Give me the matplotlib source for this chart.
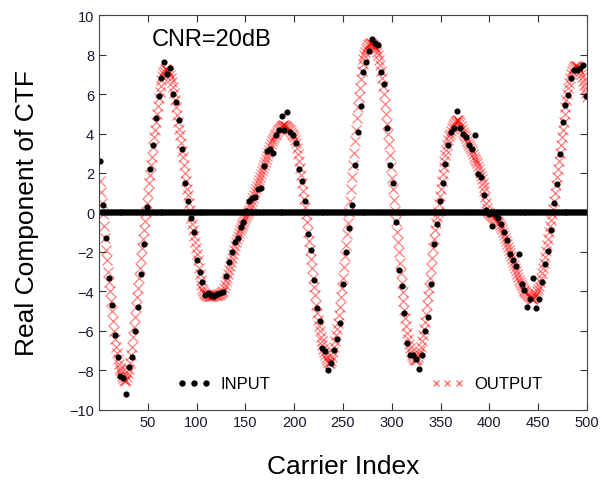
import numpy as np
import matplotlib
matplotlib.use("Agg")
import matplotlib.pyplot as plt
from matplotlib.lines import Line2D

plt.rcParams['font.family'] = ['Liberation Sans', 'DejaVu Sans']

# carrier index 1..500
carriers = np.arange(1, 501)

# estimated channel transfer function after interpolation (red x)
output_ctf = [
    1.6, 1.05, 0.5, -0.1, -0.7, -1.3, -1.9, -2.4, -3.0, -3.5,
    -4.0, -4.5, -5.0, -5.5, -6.0, -6.4, -6.8, -7.1, -7.4, -7.65,
    -7.85, -8.0, -8.15, -8.3, -8.4, -8.5, -8.55, -8.5, -8.35, -8.15,
    -7.9, -7.6, -7.2, -6.8, -6.3, -5.8, -5.3, -4.8, -4.3, -3.8,
    -3.3, -2.8, -2.3, -1.8, -1.35, -0.9, -0.45, 0.0, 0.5, 1.0,
    1.5, 1.9, 2.4, 2.8, 3.3, 3.8, 4.2, 4.6, 5.0, 5.4,
    5.8, 6.1, 6.4, 6.7, 6.9, 7.05, 7.15, 7.25, 7.25, 7.2,
    7.15, 7.05, 6.95, 6.8, 6.6, 6.35, 6.05, 5.7, 5.35, 4.95,
    4.6, 4.25, 3.9, 3.5, 3.1, 2.8, 2.4, 2.0, 1.6, 1.2,
    0.9, 0.5, 0.15, -0.3, -0.6, -0.9, -1.2, -1.5, -1.8, -2.1,
    -2.4, -2.8, -3.1, -3.4, -3.65, -3.85, -4.0, -4.1, -4.15, -4.2,
    -4.2, -4.25, -4.25, -4.25, -4.25, -4.25, -4.25, -4.2, -4.2, -4.2,
    -4.2, -4.2, -4.15, -4.15, -4.1, -4.05, -3.95, -3.8, -3.65, -3.45,
    -3.3, -3.1, -2.9, -2.7, -2.5, -2.3, -2.1, -1.9, -1.7, -1.5,
    -1.35, -1.2, -1.05, -0.9, -0.8, -0.7, -0.6, -0.5, -0.4, -0.3,
    -0.2, -0.1, 0.0, 0.15, 0.3, 0.45, 0.6, 0.75, 0.9, 1.05,
    1.2, 1.35, 1.5, 1.65, 1.8, 1.95, 2.1, 2.25, 2.4, 2.55,
    2.7, 2.85, 3.0, 3.15, 3.3, 3.45, 3.6, 3.7, 3.8, 3.9,
    4.0, 4.1, 4.2, 4.25, 4.3, 4.35, 4.4, 4.4, 4.45, 4.45,
    4.4, 4.4, 4.35, 4.3, 4.25, 4.2, 4.1, 4.0, 3.9, 3.8,
    3.65, 3.5, 3.25, 2.95, 2.6, 2.25, 1.9, 1.5, 1.1, 0.7,
    0.3, -0.1, -0.5, -1.0, -1.45, -1.9, -2.35, -2.8, -3.3, -3.75,
    -4.2, -4.7, -5.1, -5.45, -5.75, -6.0, -6.3, -6.5, -6.7, -6.9,
    -7.05, -7.2, -7.35, -7.45, -7.55, -7.6, -7.6, -7.5, -7.3, -7.05,
    -6.8, -6.5, -6.2, -5.9, -5.6, -5.2, -4.8, -4.3, -3.8, -3.3,
    -2.75, -2.2, -1.65, -1.1, -0.55, 0.0, 0.6, 1.2, 1.8, 2.4,
    3.0, 3.6, 4.2, 4.8, 5.35, 5.85, 6.3, 6.75, 7.15, 7.5,
    7.75, 7.95, 8.15, 8.3, 8.4, 8.5, 8.55, 8.6, 8.6, 8.55,
    8.5, 8.45, 8.4, 8.3, 8.15, 7.95, 7.7, 7.45, 7.15, 6.8,
    6.4, 6.0, 5.5, 5.0, 4.5, 4.0, 3.45, 2.9, 2.3, 1.75,
    1.2, 0.65, 0.1, -0.45, -1.0, -1.5, -2.0, -2.55, -3.05, -3.55,
    -4.05, -4.5, -4.95, -5.35, -5.75, -6.1, -6.4, -6.65, -6.85, -7.05,
    -7.2, -7.3, -7.4, -7.45, -7.45, -7.4, -7.3, -7.15, -7.0, -6.8,
    -6.5, -6.2, -5.9, -5.55, -5.15, -4.7, -4.25, -3.8, -3.3, -2.8,
    -2.3, -1.8, -1.35, -0.9, -0.55, -0.25, 0.05, 0.45, 0.85, 1.2,
    1.6, 1.95, 2.3, 2.6, 2.9, 3.15, 3.4, 3.65, 3.85, 4.0,
    4.15, 4.3, 4.4, 4.5, 4.6, 4.65, 4.7, 4.7, 4.65, 4.55,
    4.4, 4.25, 4.1, 3.95, 3.85, 3.75, 3.6, 3.5, 3.4, 3.3,
    3.2, 3.1, 2.95, 2.8, 2.7, 2.6, 2.5, 2.35, 2.2, 2.0,
    1.85, 1.7, 1.5, 1.3, 1.1, 0.8, 0.5, 0.25, 0.05, -0.05,
    -0.1, -0.15, -0.2, -0.25, -0.3, -0.35, -0.4, -0.45, -0.5, -0.55,
    -0.65, -0.75, -0.85, -1.0, -1.15, -1.3, -1.45, -1.6, -1.75, -1.9,
    -2.05, -2.2, -2.35, -2.5, -2.65, -2.8, -2.95, -3.1, -3.25, -3.4,
    -3.5, -3.6, -3.7, -3.8, -3.9, -4.0, -4.05, -4.1, -4.15, -4.2,
    -4.25, -4.3, -4.35, -4.4, -4.4, -4.35, -4.25, -4.15, -4.0, -3.85,
    -3.7, -3.5, -3.3, -3.05, -2.8, -2.55, -2.25, -1.95, -1.65, -1.35,
    -1.0, -0.7, -0.4, -0.1, 0.2, 0.6, 1.0, 1.4, 1.8, 2.2,
    2.6, 3.0, 3.4, 3.8, 4.2, 4.6, 5.0, 5.35, 5.7, 6.0,
    6.3, 6.55, 6.8, 7.0, 7.15, 7.25, 7.35, 7.4, 7.4, 7.4,
    7.35, 7.25, 7.15, 7.0, 6.85, 6.65, 6.45, 6.25, 6.05, 5.85,
]

# pilot carriers (every 3rd) carry the noisy received values, others are 0
pilot_carriers = np.arange(1, 500, 3)
pilot_values = [
    2.6, 0.4, -1.3, -3.3, -4.7, -6.2, -7.3, -8.3, -8.4, -9.2,
    -7.8, -7.3, -6.0, -4.8, -3.1, -1.6, 0.3, 2.2, 3.4, 4.8,
    5.9, 6.8, 7.6, 7.0, 7.3, 6.0, 5.6, 4.7, 3.2, 1.5,
    0.6, -0.3, -1.0, -2.4, -3.0, -3.5, -4.2, -4.1, -4.2, -4.25,
    -4.15, -4.1, -4.05, -3.2, -2.5, -2.0, -1.5, -1.3, -0.75, -0.5,
    0.1, 0.6, 0.75, 0.8, 1.2, 1.25, 2.35, 3.1, 3.2, 3.0,
    3.9, 4.2, 4.9, 4.2, 5.1, 4.1, 3.9, 3.5, 2.2, 1.6,
    0.6, -1.1, -1.9, -3.4, -4.85, -5.5, -6.85, -7.0, -7.95, -7.6,
    -6.95, -6.4, -5.6, -3.6, -2.0, -0.8, 0.4, 2.4, 4.1, 5.4,
    7.1, 7.6, 8.2, 8.8, 8.6, 8.5, 7.1, 6.5, 4.3, 2.4,
    1.5, -0.5, -2.9, -3.7, -5.1, -6.6, -7.2, -7.2, -7.4, -7.9,
    -7.2, -6.0, -5.3, -3.6, -1.6, -0.6, 0.6, 1.5, 2.45, 3.4,
    4.1, 4.3, 5.15, 4.3, 4.0, 3.8, 3.4, 3.2, 3.9, 1.95,
    1.8, 0.9, 0.15, -0.1, -0.7, -0.1, -0.3, -0.6, -1.0, -1.4,
    -2.1, -2.4, -2.7, -2.1, -3.6, -3.9, -4.8, -4.4, -3.3, -4.85,
    -4.4, -3.5, -2.6, -1.95, -0.9, 0.5, 1.45, 2.95, 4.6, 5.45,
    5.95, 6.8, 7.2, 7.2, 7.3, 7.45, 5.9,
]

input_ctf = np.zeros(len(carriers))
input_ctf[pilot_carriers - 1] = pilot_values

fig = plt.figure(figsize=(6.02, 4.85), dpi=100)
ax = fig.add_axes([0.1645, 0.1526, 0.8105, 0.8144])

ax.plot(carriers, output_ctf, ls='none', marker='x', ms=6.5, mew=0.9,
        color='red', alpha=0.5)
ax.plot(carriers, input_ctf, ls='none', marker='o', ms=3.4, color='black')

ax.set_xlim(0, 500)
ax.set_ylim(-10, 10)
ax.set_xticks(np.arange(50, 501, 50))
ax.set_yticks(np.arange(-10, 11, 2))
ax.tick_params(direction='in', top=True, right=True, length=5, width=0.8,
               labelsize=10.5, colors='#333333', labelcolor='#1a1a2e')
for s in ax.spines.values():
    s.set_color('#444444')

ax.set_xlabel('Carrier Index', fontsize=19, labelpad=18)
ax.set_ylabel('Real Component of CTF', fontsize=19, labelpad=22)

ax.text(0.108, 0.94, 'CNR=20dB', transform=ax.transAxes, fontsize=17,
        ha='left', va='center')

h_in = Line2D([], [], ls='none', marker='o', ms=3.6, color='black')
h_out = Line2D([], [], ls='none', marker='x', ms=5, mew=1.0, color='red', alpha=0.55)
leg1 = ax.legend([h_in], ['INPUT'], numpoints=3, loc='center left',
                 bbox_to_anchor=(0.13, 0.066), frameon=False, fontsize=12,
                 handlelength=2.0, handletextpad=0.6)
ax.add_artist(leg1)
ax.legend([h_out], ['OUTPUT'], numpoints=3, loc='center left',
          bbox_to_anchor=(0.649, 0.066), frameon=False, fontsize=12,
          handlelength=2.0, handletextpad=0.6)

fig.savefig('out.png', dpi=100)
